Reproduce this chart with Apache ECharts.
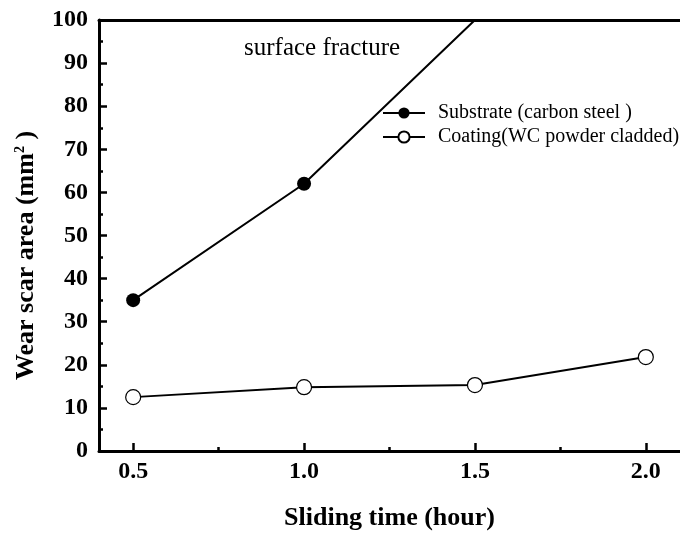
<!DOCTYPE html>
<html>
<head>
<meta charset="utf-8">
<script src="https://cdn.jsdelivr.net/npm/echarts@6/dist/echarts.min.js"></script>
<style>
    html, body { margin: 0; padding: 0; background: #fff; }
    #canvasContainer { width: 680px; height: 536px; }
</style>
</head>
<body>
<div id="canvasContainer"></div>
<script>
// data
var hours = [0.5, 1.0, 1.5, 2.0];
var substrate = [35, 62, 100];       // line leaves the frame at 1.5 h (surface fracture)
var coating = [12.5, 14.8, 15.3, 21.8];
var xTicks = [0.5, 1.0, 1.5, 2.0];
var xMinorTicks = [0.75, 1.25, 1.75];

var serif = 'Liberation Serif';
var chart = echarts.init(document.getElementById("canvasContainer"));

function pairs(xs, ys) {
    var out = [];
    for (var i = 0; i < ys.length; i++) {
        out.push([xs[i], ys[i]]);
    }
    return out;
}

var subData = pairs(hours, substrate);
// last point is where the line hits the top of the frame, no marker there
subData[subData.length - 1] = { value: subData[subData.length - 1], symbol: 'none' };

var option = {
    animation: false,
    grid: {
        left: 99,
        right: -2,
        top: 20,
        bottom: 83
    },
    legend: {
        left: 377,
        top: 98,
        orient: 'vertical',
        itemWidth: 42,
        itemHeight: 14,
        itemGap: 4,
        textStyle: {
            fontFamily: serif,
            fontSize: 20,
            color: '#000',
            padding: [0, 0, 0, 8]
        },
        data: ['Substrate (carbon steel )', 'Coating(WC powder cladded)']
    },
    xAxis: [
        {
            type: 'value',
            min: 0.4,
            max: 2.1,
            position: 'bottom',
            name: 'Sliding time (hour)',
            nameLocation: 'middle',
            nameGap: 54,
            nameTextStyle: { fontFamily: serif, fontWeight: 'bold', fontSize: 26, color: '#000' },
            axisLine: { lineStyle: { color: '#000', width: 3 } },
            axisTick: {
                inside: true, length: 8,
                customValues: xTicks,
                lineStyle: { color: '#000', width: 2.5 }
            },
            axisLabel: {
                customValues: xTicks,
                margin: 9,
                fontFamily: serif, fontWeight: 'bold', fontSize: 24, color: '#000',
                formatter: function (v) { return v.toFixed(1); }
            },
            splitLine: { show: false }
        },
        {
            // minor ticks
            type: 'value',
            min: 0.4,
            max: 2.1,
            position: 'bottom',
            axisLine: { show: false },
            axisTick: {
                inside: true, length: 4,
                customValues: xMinorTicks,
                lineStyle: { color: '#000', width: 2.5 }
            },
            axisLabel: { show: false },
            splitLine: { show: false }
        },
        {
            // top frame line
            type: 'value',
            min: 0.4,
            max: 2.1,
            position: 'top',
            axisLine: { lineStyle: { color: '#000', width: 3 } },
            axisTick: { show: false },
            axisLabel: { show: false },
            splitLine: { show: false }
        }
    ],
    yAxis: {
        type: 'value',
        min: 0,
        max: 100,
        interval: 10,
        name: 'Wear scar area (mm{sup|2} )',
        nameLocation: 'middle',
        nameGap: 60,
        nameTextStyle: {
            fontFamily: serif, fontWeight: 'bold', fontSize: 26, color: '#000',
            padding: [0, 40, 0, 0],
            rich: {
                sup: {
                    fontFamily: serif, fontWeight: 'bold', fontSize: 14, color: '#000',
                    verticalAlign: 'top', padding: [0, 0, 12, 0]
                }
            }
        },
        axisLine: { lineStyle: { color: '#000', width: 3 } },
        axisTick: { inside: true, length: 8, lineStyle: { color: '#000', width: 2.5 } },
        minorTick: { show: true, splitNumber: 2, length: 4, lineStyle: { color: '#000', width: 2.5 } },
        axisLabel: {
            margin: 11,
            fontFamily: serif, fontWeight: 'bold', fontSize: 24, color: '#000'
        },
        splitLine: { show: false }
    },
    graphic: [
        {
            type: 'text',
            left: 244,
            top: 36,
            style: {
                text: 'surface fracture',
                font: '25px "Liberation Serif"',
                fill: '#000'
            }
        }
    ],
    series: [
        {
            name: 'Substrate (carbon steel )',
            type: 'line',
            xAxisIndex: 0,
            data: subData,
            symbol: 'circle',
            symbolSize: 14,
            itemStyle: { color: '#000' },
            lineStyle: { color: '#000', width: 2 }
        },
        {
            name: 'Coating(WC powder cladded)',
            type: 'line',
            xAxisIndex: 0,
            data: pairs(hours, coating),
            symbol: 'circle',
            symbolSize: 15,
            itemStyle: { color: '#fff', borderColor: '#000', borderWidth: 1.2 },
            lineStyle: { color: '#000', width: 2 }
        }
    ]
};
chart.setOption(option);
</script>
</body>
</html>
